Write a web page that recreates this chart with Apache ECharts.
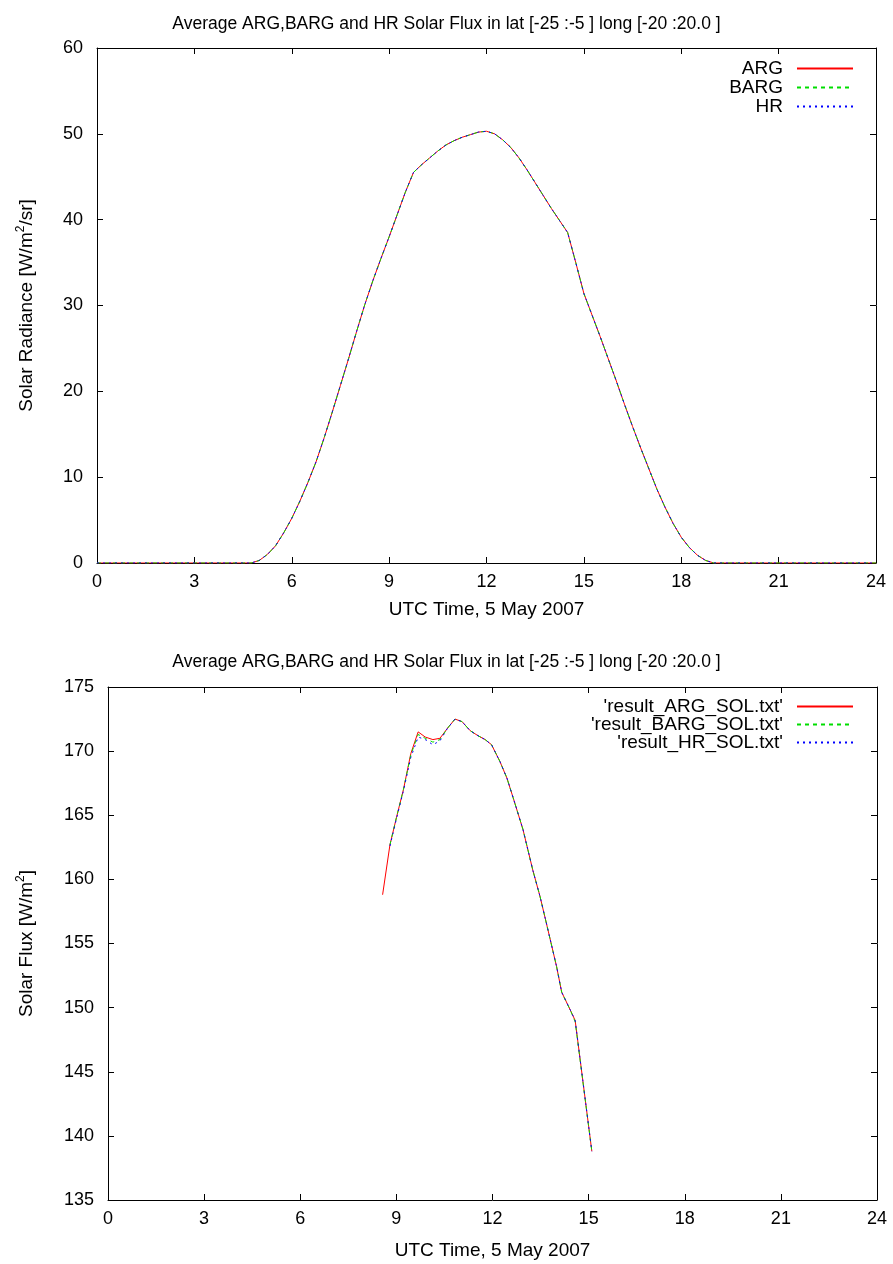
<!DOCTYPE html>
<html>
<head>
<meta charset="utf-8">
<script src="https://cdn.jsdelivr.net/npm/echarts@6/dist/echarts.min.js"></script>
<style>html,body{margin:0;padding:0;background:#fff;}#c{width:893px;height:1264px;}</style>
</head>
<body>
<div id="c"></div>
<script>
// ---- Top chart data (Solar Radiance) ----
const topHours = [0,1,2,3,4,4.5,4.75,5,5.25,5.5,5.75,6,6.25,6.5,6.75,7,7.25,7.5,7.75,8,8.25,8.5,8.75,9,9.25,9.5,9.75,10,10.25,10.5,10.75,11,11.25,11.5,11.75,12,12.25,12.5,12.75,13,13.25,13.5,13.75,14,14.25,14.5,14.75,15,15.25,15.5,15.75,16,16.25,16.5,16.75,17,17.25,17.5,17.75,18,18.25,18.5,18.75,19,20,21,22,23,24];
const topARG  = [0,0,0,0,0,0,0,0.3,1.0,2.0,3.5,5.2,7.2,9.4,11.8,14.6,17.6,20.7,23.8,27.0,30.1,32.9,35.5,38.0,40.6,43.2,45.5,46.4,47.2,48.0,48.7,49.2,49.6,49.9,50.2,50.3,50.0,49.3,48.4,47.2,45.8,44.3,42.8,41.3,39.9,38.5,35.0,31.4,28.9,26.4,23.8,21.2,18.5,15.9,13.4,11.0,8.6,6.5,4.6,3.0,1.8,0.9,0.3,0,0,0,0,0,0];
const topBARG = [0,0,0,0,0,0,0,0.3,1.0,2.0,3.5,5.2,7.2,9.4,11.8,14.6,17.6,20.7,23.8,27.0,30.1,32.9,35.5,38.0,40.6,43.2,45.5,46.4,47.2,48.0,48.7,49.2,49.6,49.9,50.2,50.3,50.0,49.3,48.4,47.2,45.8,44.3,42.8,41.3,39.9,38.5,35.0,31.4,28.9,26.4,23.8,21.2,18.5,15.9,13.4,11.0,8.6,6.5,4.6,3.0,1.8,0.9,0.3,0,0,0,0,0,0];
const topHR   = [0,0,0,0,0,0,0,0.3,1.0,2.0,3.5,5.2,7.2,9.4,11.8,14.6,17.6,20.7,23.8,27.0,30.1,32.9,35.5,38.0,40.6,43.2,45.5,46.4,47.2,48.0,48.7,49.2,49.6,49.9,50.2,50.3,50.0,49.3,48.4,47.2,45.8,44.3,42.8,41.3,39.9,38.5,35.0,31.4,28.9,26.4,23.8,21.2,18.5,15.9,13.4,11.0,8.6,6.5,4.6,3.0,1.8,0.9,0.3,0,0,0,0,0,0];

// ---- Bottom chart data (Solar Flux) ----
const botHours = [8.57,8.8,9.0,9.22,9.45,9.68,9.9,10.14,10.36,10.6,10.83,11.05,11.3,11.55,11.77,11.97,12.23,12.45,12.64,12.95,13.26,13.48,13.68,14.0,14.16,14.43,14.58,15.1];
const botARG  = [158.8,162.7,164.8,167.0,169.8,171.5,171.1,170.9,171.0,171.8,172.5,172.3,171.6,171.2,170.9,170.5,169.2,167.9,166.4,163.9,160.7,158.7,156.6,153.2,151.2,149.8,149.0,138.8];
const botBARG = [null,162.7,164.8,167.0,169.7,171.3,171.0,170.7,170.9,171.8,172.5,172.3,171.6,171.2,170.9,170.5,169.2,167.9,166.4,163.9,160.7,158.7,156.6,153.2,151.2,149.8,148.9,138.8];
const botHR   = [null,162.6,164.7,166.9,169.5,171.1,170.9,170.5,170.8,171.8,172.5,172.3,171.6,171.2,170.9,170.5,169.2,167.9,166.4,163.9,160.7,158.7,156.6,153.2,151.2,149.8,149.0,138.8];

const topTitle = 'Average ARG,BARG and HR Solar Flux in lat [-25 :-5 ] long [-20 :20.0 ]';
const botTitle = 'Average ARG,BARG and HR Solar Flux in lat [-25 :-5 ] long [-20 :20.0 ]';
const xName = 'UTC Time, 5 May 2007';
const topNames = ['ARG','BARG','HR'];
const botNames = ["'result_ARG_SOL.txt'","'result_BARG_SOL.txt'","'result_HR_SOL.txt'"];

function pairs(xs, ys){ const out=[]; xs.forEach((x,i)=>{ if(ys[i]!==null) out.push([x,ys[i]]); }); return out; }

const FONT = 'Liberation Sans';
const FS = 18;
const NFS = 19;
const colors = ['#ff0000','#00dd00','#0000ff'];
const lineTypes = ['solid',[4,4],[2,4]];

function mainX(gi, gap){
  return {gridIndex:gi,type:'value',min:0,max:24,interval:3,position:'bottom',
    name:xName,nameLocation:'middle',nameGap:gap,
    nameTextStyle:{fontFamily:FONT,fontSize:NFS,color:'#000'},
    axisLine:{show:true,onZero:false,lineStyle:{color:'#000',width:1}},
    axisTick:{show:true,inside:true,length:6,lineStyle:{color:'#000'}},
    axisLabel:{fontFamily:FONT,fontSize:FS,color:'#000',margin:10},
    splitLine:{show:false}};
}
function mirrorX(gi){
  return {gridIndex:gi,type:'value',min:0,max:24,interval:3,position:'top',
    axisLine:{show:true,onZero:false,lineStyle:{color:'#000',width:1}},
    axisTick:{show:true,inside:true,length:6,lineStyle:{color:'#000'}},
    axisLabel:{show:false},splitLine:{show:false}};
}
function mainY(gi,min,max,interval,nameRich,gap){
  return {gridIndex:gi,type:'value',min:min,max:max,interval:interval,position:'left',
    name:nameRich,nameLocation:'middle',nameGap:gap,nameRotate:90,
    nameTextStyle:{fontFamily:FONT,fontSize:NFS,color:'#000',
      rich:{a:{fontFamily:FONT,fontSize:NFS,color:'#000',lineHeight:24,verticalAlign:'middle'},
            s:{fontFamily:FONT,fontSize:12,color:'#000',lineHeight:24,verticalAlign:'top'}}},
    axisLine:{show:true,onZero:false,lineStyle:{color:'#000',width:1}},
    axisTick:{show:true,inside:true,length:6,lineStyle:{color:'#000'}},
    axisLabel:{fontFamily:FONT,fontSize:FS,color:'#000',margin:14},
    splitLine:{show:false}};
}
function mirrorY(gi,min,max,interval){
  return {gridIndex:gi,type:'value',min:min,max:max,interval:interval,position:'right',
    axisLine:{show:true,onZero:false,lineStyle:{color:'#000',width:1}},
    axisTick:{show:true,inside:true,length:6,lineStyle:{color:'#000'}},
    axisLabel:{show:false},splitLine:{show:false}};
}
function mkSeries(name, data, k, xi, yi){
  return {name:name,type:'line',xAxisIndex:xi,yAxisIndex:yi,data:data,symbol:'none',showSymbol:false,
    animation:false,connectNulls:false,
    lineStyle:{color:colors[k],width:1,type:lineTypes[k]},itemStyle:{color:colors[k]}};
}
function mkLegend(names, top, gap){
  return {data:names,orient:'vertical',align:'right',right:34,top:top,itemWidth:56,itemHeight:12,itemGap:gap,
    itemStyle:{opacity:0,borderWidth:0},
    textStyle:{fontFamily:FONT,fontSize:NFS,color:'#000',padding:[0,9,0,0]},selectedMode:false};
}

const chart = echarts.init(document.getElementById('c'));
chart.setOption({
  backgroundColor:'#fff',
  animation:false,
  title:[
    {text:topTitle,left:'center',top:10,textStyle:{fontFamily:FONT,fontSize:17.5,fontWeight:'normal',color:'#000'}},
    {text:botTitle,left:'center',top:648,textStyle:{fontFamily:FONT,fontSize:17.5,fontWeight:'normal',color:'#000'}}
  ],
  grid:[
    {left:97,right:17,top:48,height:515,show:false},
    {left:108,right:16,top:687,height:513,show:false}
  ],
  legend:[mkLegend(topNames,54,0), mkLegend(botNames,692,-1)],
  xAxis:[mainX(0,37),mirrorX(0),mainX(1,41),mirrorX(1)],
  yAxis:[
    mainY(0,0,60,10,'{a|Solar Radiance [W/m}{s|2}{a|/sr]}',58),
    mirrorY(0,0,60,10),
    mainY(1,135,175,5,'{a|Solar Flux [W/m}{s|2}{a|]}',69),
    mirrorY(1,135,175,5)
  ],
  series:[
    mkSeries(topNames[0],pairs(topHours,topARG),0,0,0),
    mkSeries(topNames[1],pairs(topHours,topBARG),1,0,0),
    mkSeries(topNames[2],pairs(topHours,topHR),2,0,0),
    mkSeries(botNames[0],pairs(botHours,botARG),0,2,2),
    mkSeries(botNames[1],pairs(botHours,botBARG),1,2,2),
    mkSeries(botNames[2],pairs(botHours,botHR),2,2,2)
  ]
});
</script>
</body>
</html>
